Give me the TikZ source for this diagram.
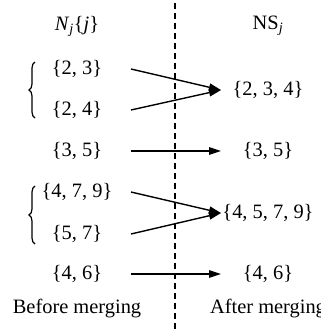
\documentclass[tikz,border=0pt]{standalone}
\usepackage{fontspec}
\setmainfont{Liberation Serif}
\usetikzlibrary{arrows.meta,positioning,decorations.pathreplacing}
\begin{document}
\begin{tikzpicture}[x=1bp,y=-1bp,>={Triangle[length=12bp,width=7.5bp]},
  every node/.style={font=\fontsize{20.5}{24}\selectfont,inner sep=0pt},
  merge/.style={->,line width=1.4bp},
  setbrace/.style={decorate,decoration={brace,amplitude=6bp},line width=1.2bp}]
  \useasboundingbox (0,0) rectangle (321,330);
  \draw[dash pattern=on 6bp off 4bp,line width=1.1bp] (175,3) -- (175,330);
  \def\xl{77} \def\xr{268}
  \node (hl) at (\xl,26) {\textit{N}\textsubscript{\textit{j}}\{\textit{j}\}};
  \node (hr) at (\xr,26) {NS\textsubscript{\textit{j}}};
  \node (n23) at (\xl,69) {\{2, 3\}};
  \node (n24) at (\xl,110) {\{2, 4\}};
  \node (n35) at (\xl,151) {\{3, 5\}};
  \node (n479) at (\xl,192) {\{4, 7, 9\}};
  \node (n57) at (\xl,234) {\{5, 7\}};
  \node (n46) at (\xl,274) {\{4, 6\}};
  \draw[setbrace] (35,118) -- (35,62);
  \draw[setbrace] (35,244) -- (35,186);
  \node (m234) at (\xr,90) {\{2, 3, 4\}};
  \node (m35) at (\xr,151) {\{3, 5\}};
  \node (m4579) at (\xr,213) {\{4, 5, 7, 9\}};
  \node (m46) at (\xr,274) {\{4, 6\}};
  \node (before) at (\xl,309) {Before merging};
  \node (after) at (\xr,309) {After merging};
  \coordinate (xa) at (131,0);
  \coordinate (xb) at (221,0);
  \draw[merge] (n23 -| xa) -- (m234 -| xb);
  \draw[merge] (n24 -| xa) -- (m234 -| xb);
  \draw[merge] (n35 -| xa) -- (m35 -| xb);
  \draw[merge] (n479 -| xa) -- (m4579 -| xb);
  \draw[merge] (n57 -| xa) -- (m4579 -| xb);
  \draw[merge] (n46 -| xa) -- (m46 -| xb);
\end{tikzpicture}
\end{document}
